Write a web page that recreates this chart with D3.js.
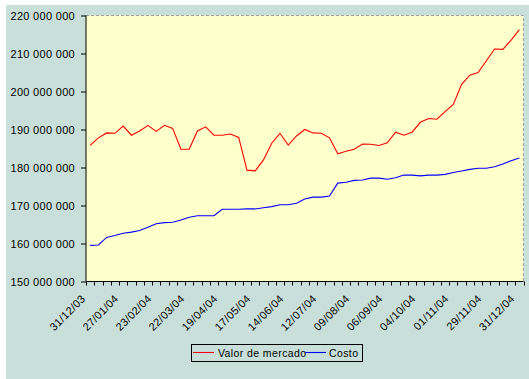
<!DOCTYPE html>
<html><head><meta charset="utf-8">
<script src="https://cdn.jsdelivr.net/npm/d3@7"></script>
<style>
html,body{margin:0;padding:0;background:#fff;}
svg{display:block;}
text{font-family:"Liberation Sans",Arial,sans-serif;fill:#000;}
</style></head>
<body><svg id="c" width="529" height="379"></svg>
<script>
const dates = ["31/12/03","06/01/04","13/01/04","20/01/04","27/01/04","02/02/04","09/02/04","16/02/04","23/02/04","01/03/04","08/03/04","15/03/04","22/03/04","29/03/04","05/04/04","12/04/04","19/04/04","26/04/04","03/05/04","10/05/04","17/05/04","24/05/04","31/05/04","07/06/04","14/06/04","21/06/04","28/06/04","05/07/04","12/07/04","19/07/04","26/07/04","02/08/04","09/08/04","16/08/04","23/08/04","30/08/04","06/09/04","13/09/04","20/09/04","27/09/04","04/10/04","11/10/04","18/10/04","25/10/04","01/11/04","08/11/04","15/11/04","22/11/04","29/11/04","06/12/04","13/12/04","20/12/04","31/12/04"];
const valorMercado = [185.8,187.8,189.1,189.0,190.9,188.5,189.6,191.1,189.5,191.1,190.3,184.8,184.8,189.6,190.7,188.5,188.5,188.8,187.9,179.3,179.1,182.0,186.4,189.0,185.9,188.3,190.0,189.1,189.0,187.8,183.6,184.3,184.8,186.2,186.1,185.8,186.5,189.3,188.5,189.3,191.9,192.9,192.7,194.7,196.6,201.9,204.3,205.0,208.1,211.2,211.1,213.5,216.3].map(v=>v*1e6);
const costo = [159.5,159.6,161.6,162.1,162.7,163.0,163.4,164.3,165.2,165.5,165.6,166.2,166.9,167.3,167.3,167.3,169.0,169.0,169.0,169.1,169.1,169.4,169.7,170.2,170.2,170.6,171.7,172.2,172.2,172.5,175.9,176.1,176.6,176.7,177.2,177.2,176.9,177.3,178.0,178.0,177.8,178.0,178.0,178.2,178.7,179.1,179.5,179.8,179.8,180.2,180.9,181.8,182.5].map(v=>v*1e6);
const yTicks = [150e6,160e6,170e6,180e6,190e6,200e6,210e6,220e6];
const xLabelDates = dates.filter((d,i)=> i%4===0 || i===dates.length-1);
const seriesNames = ["Valor de mercado","Costo"];
const seriesColors = ["#ff0000","#0000ff"];

const svg = d3.select("#c");
const L=86, R=523.5, T=15.5, B=281.5;

svg.append("rect").attr("x",6).attr("y",5).attr("width",523).attr("height",374).attr("fill","#c9e0da");
svg.append("rect").attr("x",L).attr("y",T).attr("width",R-L).attr("height",B-T).attr("fill","#ffffcc");
// dashed top & right border
svg.append("path").attr("d",`M${L},${T}H${R}V${B}`).attr("fill","none").attr("stroke","#a0a0a0").attr("stroke-dasharray","3,2");

const x = d3.scaleBand().domain(dates).range([L,R]).paddingInner(0).paddingOuter(0);
const y = d3.scaleLinear().domain([150e6,220e6]).range([B,T]);
const cx = d => x(d)+x.bandwidth()/2;

// y axis
const fmt = v => d3.format(",")(v).replace(/,/g," ");
const ya = svg.append("g").attr("transform",`translate(${L},0)`)
  .call(d3.axisLeft(y).tickValues(yTicks).tickFormat(fmt).tickSize(5).tickPadding(6));
ya.select(".domain").attr("stroke","#000").attr("d",`M0,${T}V${B}`);
ya.selectAll(".tick line").attr("stroke","#000");
ya.selectAll("text").attr("font-size","11px").style("letter-spacing","0.3px").attr("font-family","Liberation Sans, Arial, sans-serif");

// x axis line
svg.append("line").attr("x1",L).attr("x2",R).attr("y1",B).attr("y2",B).attr("stroke","#000");
// ticks at category boundaries
const bounds = dates.map(d=>x(d)).concat([R]);
svg.append("g").selectAll("line").data(bounds).join("line")
  .attr("x1",d=>Math.round(d)+0.5).attr("x2",d=>Math.round(d)+0.5).attr("y1",B).attr("y2",B+4).attr("stroke","#000");
// x labels
svg.append("g").selectAll("text").data(xLabelDates).join("text")
  .attr("transform",d=>`translate(${cx(d)-4},${B+18}) rotate(-45)`)
  .attr("text-anchor","end").attr("font-size","11px").style("letter-spacing","0.3px")
  .text(d=>d);

// lines
const line = d3.line().x((d,i)=>cx(dates[i])).y(d=>y(d));
[valorMercado,costo].forEach((s,k)=>{
  svg.append("path").datum(s).attr("d",line).attr("fill","none").attr("stroke",seriesColors[k]).attr("stroke-width",1.1);
});

// legend
const lg = svg.append("g");
lg.append("rect").attr("x",191.5).attr("y",344.5).attr("width",171).attr("height",17).attr("fill","none").attr("stroke","#000");
const items = [{x:193,tx:218},{x:305,tx:329}];
items.forEach((it,k)=>{
  lg.append("line").attr("x1",it.x).attr("x2",it.x+21).attr("y1",352.5).attr("y2",352.5).attr("stroke",seriesColors[k]).attr("stroke-width",1.1);
  lg.append("text").attr("x",it.tx).attr("y",356.5).attr("font-size","10.5px").style("letter-spacing","0.4px").text(seriesNames[k]);
});
</script></body></html>
